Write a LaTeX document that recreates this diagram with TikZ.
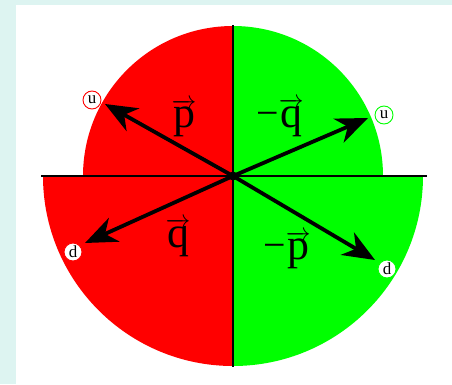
\documentclass[tikz,border=0pt]{standalone}
\usepackage{fontspec}
\setmainfont{Liberation Serif}
\usetikzlibrary{arrows.meta}
\definecolor{bgc}{HTML}{DDF4F1}
\definecolor{qred}{HTML}{FF0000}
\definecolor{qgreen}{HTML}{00FF00}
\newcommand{\negsign}{\raisebox{1bp}{\fontsize{40}{40}\selectfont −}}
\begin{document}
\begin{tikzpicture}[x=1bp,y=1bp,
  vecarrow/.style={line width=3.8bp,-{Stealth[length=32bp,width=26bp,inset=10bp]}},
  quark/.style={circle,fill=white,draw=#1,line width=0.9bp,inner sep=0pt,minimum size=18bp,font=\fontsize{17}{17}\selectfont},
  veclabel/.style={inner sep=0pt,font=\fontsize{44}{48}\selectfont}]
\useasboundingbox (0,0) rectangle (452,384);
\fill[bgc] (0,0) rectangle (452,384);
\fill[white] (16,0) rectangle (452,379);
% quarters
\fill[qred] (233,208) -- (83,208) arc[start angle=180,end angle=90,radius=150] -- cycle;
\fill[qred] (233,208) -- (43,208) arc[start angle=180,end angle=270,radius=190] -- cycle;
\fill[qgreen] (233,208) -- (233,358) arc[start angle=90,end angle=0,radius=150] -- cycle;
\fill[qgreen] (233,208) -- (423,208) arc[start angle=0,end angle=-90,radius=190] -- cycle;
% axes
\coordinate (hl) at (41,208);
\coordinate (hr) at (427,208);
\coordinate (vt) at (233,359);
\coordinate (vb) at (233,17);
\draw[line width=1.8bp] (hl) -- (hr);
\draw[line width=1.5bp] (vt) -- (vb);
% centre
\coordinate (o) at (233,208);
\fill (o) circle[radius=4.5bp];
% arrow tips
\coordinate (tul) at (105,280);
\coordinate (tur) at (368,266);
\coordinate (tll) at (85,141);
\coordinate (tlr) at (375,124);
\draw[vecarrow] (o) -- (tul);
\draw[vecarrow] (o) -- (tur);
\draw[vecarrow] (o) -- (tll);
\draw[vecarrow] (o) -- (tlr);
% quark labels
\node[quark=qred] (uL) at (92,284) {u};
\node[quark=qgreen] (uR) at (384,269) {u};
\node[quark=qred] (dL) at (73,132) {d};
\node[quark=qgreen] (dR) at (387,115) {d};
% vector labels
\node[veclabel] (p) at (184,266) {$\overrightarrow{\mathrm{p}}$};
\node[veclabel] (mq) at (280,266) {\negsign$\overrightarrow{\mathrm{q}}$};
\node[veclabel] (q) at (178,146) {$\overrightarrow{\mathrm{q}}$};
\node[veclabel] (mp) at (287,134) {\negsign$\overrightarrow{\mathrm{p}}$};
\end{tikzpicture}
\end{document}
